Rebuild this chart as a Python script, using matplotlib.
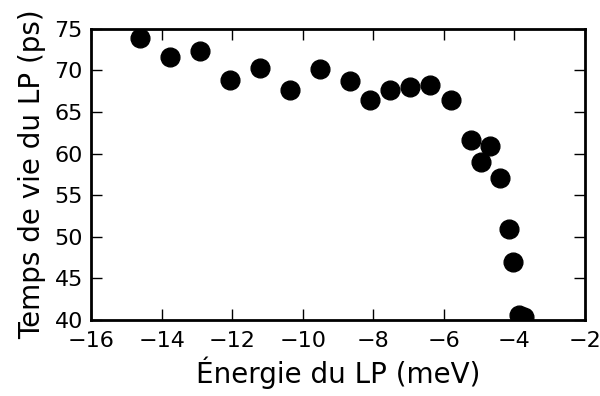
import matplotlib
matplotlib.use("Agg")
import matplotlib.pyplot as plt

# Données : énergie du LP (meV) et temps de vie (ps)
energie = [-14.61, -13.76, -12.91, -12.06, -11.21, -10.36, -9.51, -8.66,
           -8.10, -7.53, -6.96, -6.40, -5.80, -5.24, -4.95, -4.70,
           -4.41, -4.16, -4.05, -3.87, -3.72]
temps_vie = [73.9, 71.6, 72.3, 68.8, 70.3, 67.6, 70.2, 68.7,
             66.5, 67.7, 68.0, 68.2, 66.5, 61.6, 59.0, 60.9,
             57.1, 50.9, 47.0, 40.6, 40.3]

fig = plt.figure(figsize=(6, 3.96), dpi=100)
ax = fig.add_axes([0.152, 0.192, 0.823, 0.735])
ax.plot(energie, temps_vie, "o", color="black", markersize=13.5)

ax.set_xlim(-16, -2)
ax.set_ylim(40, 75)
ax.set_xticks(range(-16, -1, 2))
ax.set_yticks(range(40, 76, 5))

ax.tick_params(direction="in", length=8, width=1, labelsize=16,
               top=True, right=True)
ax.tick_params(axis="x", pad=8)
ax.tick_params(axis="y", pad=6)
for s in ax.spines.values():
    s.set_linewidth(2)

ax.set_xlabel("Énergie du LP (meV)", fontsize=20, labelpad=4)
ax.set_ylabel("Temps de vie du LP (ps)", fontsize=20, labelpad=6)

fig.savefig("out.png", dpi=100)
